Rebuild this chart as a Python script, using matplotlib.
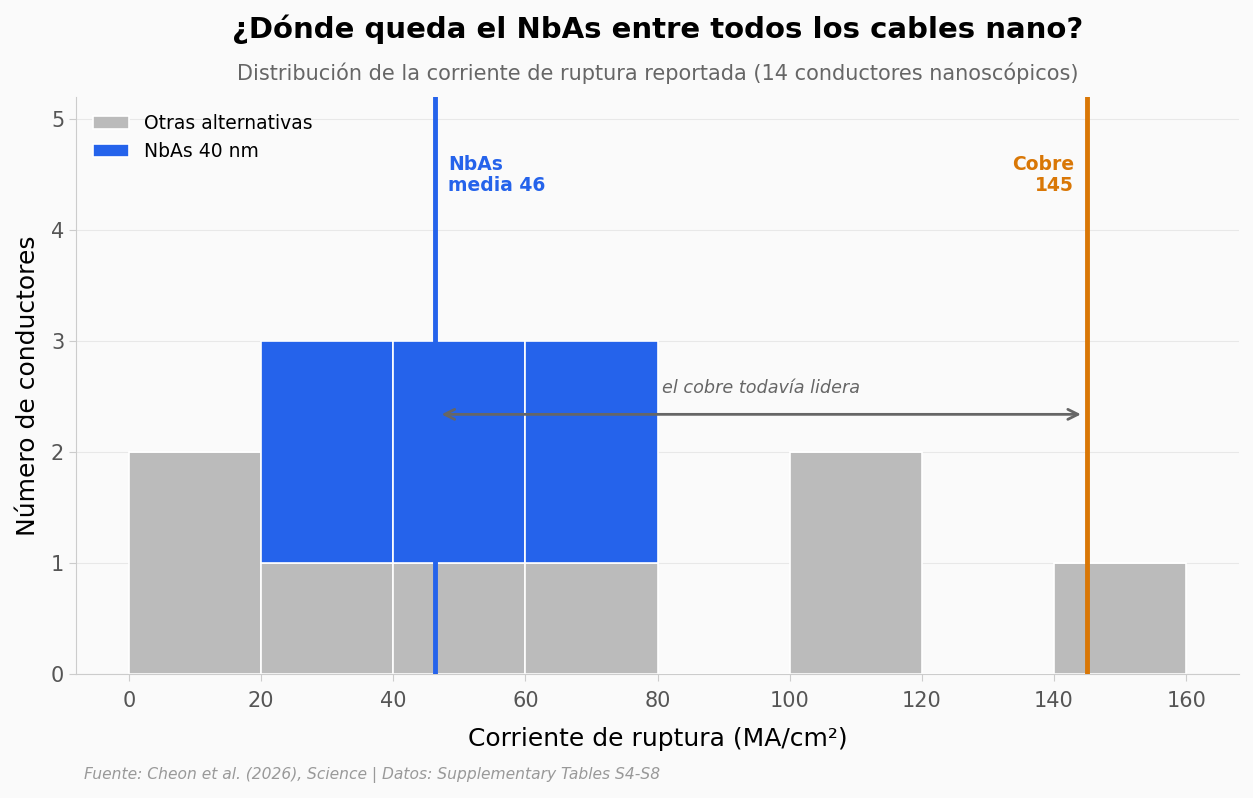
import numpy as np
import matplotlib.pyplot as plt

# datos (bins de 20 MA/cm²)
bin_edges = [0, 20, 40, 60, 80, 100, 120, 140, 160]
otras = [2, 1, 1, 1, 0, 2, 0, 1]
nbas = [0, 2, 2, 2, 0, 0, 0, 0]
nbas_media = 46.3
cobre = 145

gris = '#bbbbbb'
azul = '#2563eb'
naranja = '#d97706'

fig = plt.figure(figsize=(12.53, 7.98), dpi=100, facecolor='#fafafa')
ax = fig.add_axes([76/1253, 1-674/798, (1239-76)/1253, (674-97)/798])
ax.set_facecolor('#fafafa')

lefts = np.array(bin_edges[:-1])
width = np.diff(bin_edges)
ax.bar(lefts, otras, width=width, align='edge', color=gris, edgecolor='white',
       linewidth=1.2, label='Otras alternativas', zorder=2)
ax.bar(lefts, nbas, width=width, bottom=otras, align='edge', color=azul,
       edgecolor='white', linewidth=1.2, label='NbAs 40 nm', zorder=2)

ax.axvline(nbas_media, color=azul, lw=3.5, zorder=3)
ax.axvline(cobre, color=naranja, lw=3.5, zorder=3)
ax.text(nbas_media + 2, 4.5, 'NbAs\nmedia 46', color=azul, fontsize=13.5,
        fontweight='bold', va='center', ha='left', linespacing=1.15)
ax.text(cobre - 2, 4.5, 'Cobre\n145', color=naranja, fontsize=13.5,
        fontweight='bold', va='center', ha='right', linespacing=1.15)

ax.annotate('', xy=(nbas_media + 0.6, 2.34), xytext=(cobre - 0.5, 2.34),
            arrowprops=dict(arrowstyle='<->', color='#666666', lw=2,
                            mutation_scale=18), zorder=4)
ax.text(80.7, 2.58, 'el cobre todavía lidera', color='#666666', fontsize=12.7,
        style='italic', ha='left', va='center')

ax.set_xlim(-8, 168)
ax.set_ylim(0, 5.2)
ax.set_xticks(range(0, 161, 20))
ax.set_yticks(range(0, 6))
ax.grid(axis='y', color='#e8e8e8', lw=0.8, zorder=0)
ax.set_axisbelow(True)
for s in ['top', 'right']:
    ax.spines[s].set_visible(False)
for s in ['left', 'bottom']:
    ax.spines[s].set_color('#cccccc')
ax.tick_params(colors='#cccccc', labelcolor='#555555', labelsize=15, length=5)
ax.tick_params(axis='x', pad=7)

ax.set_xlabel('Corriente de ruptura (MA/cm²)', fontsize=18, labelpad=11.5)
ax.set_ylabel('Número de conductores', fontsize=18, labelpad=8)

ax.legend(loc='upper left', fontsize=13.5, frameon=False, handlelength=1.9)

fig.text(0.525, 0.963, '¿Dónde queda el NbAs entre todos los cables nano?',
         ha='center', va='center', fontsize=21, fontweight='bold')
fig.text(0.525, 0.908, 'Distribución de la corriente de ruptura reportada (14 conductores nanoscópicos)',
         ha='center', va='center', fontsize=15, color='#666666')
fig.text(84/1253, 0.029, 'Fuente: Cheon et al. (2026), Science | Datos: Supplementary Tables S4-S8',
         ha='left', va='center', fontsize=11.2, color='#999999', style='italic')

fig.savefig('out.png', dpi=100, facecolor=fig.get_facecolor())
